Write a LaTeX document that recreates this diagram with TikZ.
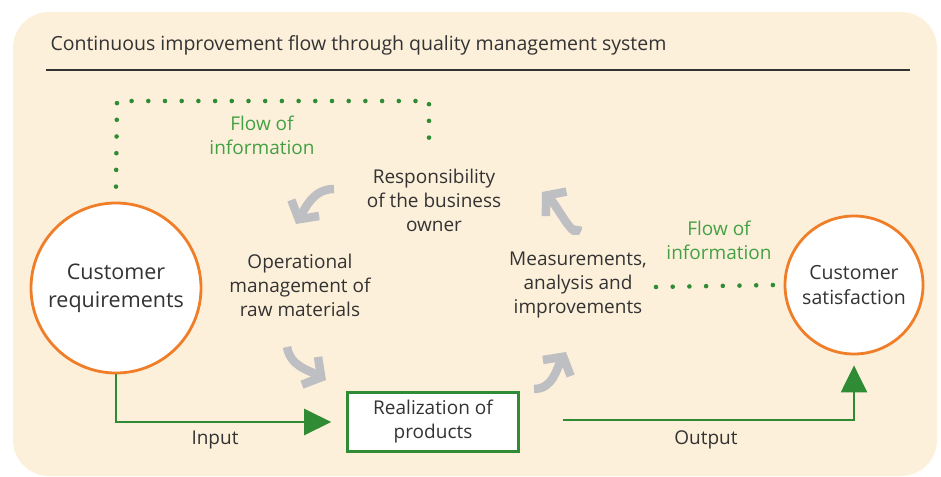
\documentclass[tikz,border=0pt]{standalone}
\usepackage{fontspec}
\setmainfont{Open Sans}
\usetikzlibrary{arrows.meta,positioning}
\definecolor{cream}{HTML}{FDF0DA}
\definecolor{qgreen}{HTML}{2F8C35}
\definecolor{lgreen}{HTML}{44A044}
\definecolor{qorange}{HTML}{F07D28}
\definecolor{qgray}{HTML}{BDBFC3}
\definecolor{ink}{HTML}{333333}
\begin{document}
\begin{tikzpicture}[x=1pt, y=-1pt,
  cust/.style = {draw=qorange, line width=2.8pt, circle, fill=white, align=center, text=ink},
  box/.style = {draw=qgreen, line width=2.6pt, fill=white, minimum width=171pt, minimum height=59pt, align=center, text=ink, font=\fontsize{19}{24}\selectfont},
  txt/.style = {align=center, text=ink, font=\fontsize{19}{24}\selectfont},
  info/.style = {align=center, text=lgreen, font=\fontsize{19}{24}\selectfont},
  flow/.style = {draw=qgreen, line width=2.4pt, -{Triangle[length=27pt, width=26pt]}},
  dots/.style = {draw=qgreen, line width=4.6pt, line cap=round, dash pattern=on 0pt off 16.7pt},
  cyc/.style = {draw=qgray, line width=8.5pt, -{Straight Barb[length=13pt, width=32pt]}}]
\useasboundingbox (0,0) rectangle (941,476);
\fill[cream, rounded corners=36pt] (13,12) rectangle (937,476);
\node[anchor=west, text=ink, font=\fontsize{19.5}{22}\selectfont] (title) at (47,45) {Continuous improvement flow through quality management system};
\draw[ink, line width=1.2pt] (46,70) -- (910,70);
% circles and box
\node[cust, minimum size=170pt, font=\fontsize{21.5}{28}\selectfont] (req) at (116,288) {Customer\\requirements};
\node[cust, minimum size=138pt, font=\fontsize{19.5}{25}\selectfont] (sat) at (854,285) {Customer\\satisfaction};
\node[box] (prod) at (433,422) {Realization of\\products};
% texts
\node[txt] (resp) at (434,200) {Responsibility\\of the business\\owner};
\node[txt] (oper) at (300,285) {Operational\\management of\\raw materials};
\node[txt] (meas) at (578,285) {Measurements,\\analysis and\\improvements};
\node[info] (info1) at (262,135) {Flow of\\information};
\node[info] (info2) at (719,240) {Flow of\\information};
\node[txt] (in) at (215,440) {Input};
\node[txt] (out) at (706,440) {Output};
% input / output
\draw[flow] (req.south) |- ([xshift=-15pt]prod.west);
\coordinate (o1) at (563,420);
\draw[flow] (o1) -| ([yshift=-10pt]sat.south);
% flow of information
\coordinate (d1) at (117,101);
\coordinate (d2) at (429,101);
\coordinate (d3) at (429,147);
\draw[dots] ([yshift=15pt]req.north) -- (d1) -- (d2) -- (d3);
\coordinate (d4) at (656,287);
\draw[dots] (d4) -- ([xshift=-9pt]sat.west);
% cycle arrows
\coordinate (a1) at (334,189); \coordinate (b1) at (296,224);
\coordinate (a2) at (287,347); \coordinate (b2) at (326,380);
\coordinate (a3) at (534,389); \coordinate (b3) at (566,352);
\coordinate (a4) at (578,226); \coordinate (b4) at (542,192);
\draw[cyc] (a1) to[out=180, in=60] (b1);
\draw[cyc] (a2) to[out=-80, in=150] (b2);
\draw[cyc] (a3) to[out=0, in=-120] (b3);
\draw[cyc] (a4) to[out=-95, in=-40] (b4);
\end{tikzpicture}
\end{document}
